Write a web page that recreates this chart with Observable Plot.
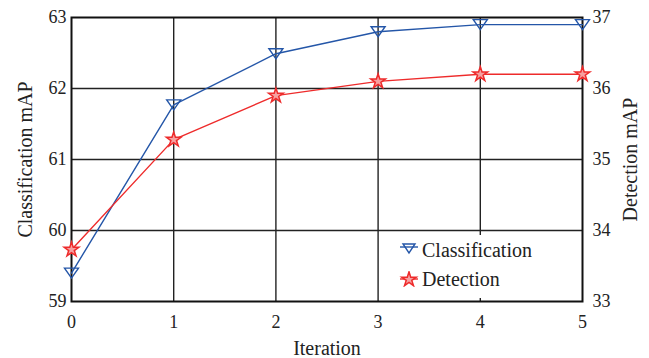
<!DOCTYPE html>
<html>
<head>
<meta charset="utf-8">
<script src="https://cdn.jsdelivr.net/npm/d3@7"></script>
<script src="https://cdn.jsdelivr.net/npm/@observablehq/plot@0.6"></script>
<style>
  html, body { margin: 0; padding: 0; background: #fff; }
  #wrap { position: relative; width: 649px; height: 358px; font-family: "Liberation Serif", "DejaVu Serif", serif; }
  #legend { position: absolute; left: 393px; top: 235px; width: 186px; height: 63px; background: #fff; font-size: 20px; color: #222; }
  .item { position: absolute; left: 5px; height: 22px; display: flex; align-items: center; }
  .item svg { margin-right: 2px; }
</style>
</head>
<body>
<div id="wrap"></div>
<script>
const iterations = [0, 1, 2, 3, 4, 5];
const classification = [59.4, 61.77, 62.49, 62.8, 62.9, 62.9];
const detection = [33.73, 35.28, 35.9, 36.1, 36.2, 36.2];
const leftTicks = [59, 60, 61, 62, 63];
const rightTicks = [33, 34, 35, 36, 37];
const xTicks = [0, 1, 2, 3, 4, 5];
const seriesNames = ["Classification", "Detection"];
const axisTitles = ["Iteration", "Classification mAP", "Detection mAP"];
const colors = ["#2456a8", "#ee2b2b"];

// map right axis (33..37) onto left scale (59..63)
const offset = leftTicks[0] - rightTicks[0];

const triDown = {
  draw(ctx, size) {
    const s = Math.sqrt(size / 113);
    const w = 7 * s, h = 5 * s;
    ctx.moveTo(-w, -h);
    ctx.lineTo(w, -h);
    ctx.lineTo(0, h);
    ctx.closePath();
  }
};

const cls = iterations.map((x, i) => ({x, y: classification[i]}));
const det = iterations.map((x, i) => ({x, y: detection[i] + offset}));

const chart = Plot.plot({
  width: 649,
  height: 358,
  marginLeft: 71,
  marginRight: 67,
  marginTop: 17,
  marginBottom: 57,
  style: {fontFamily: "Liberation Serif, DejaVu Serif, serif", fontSize: "18px", color: "#222", background: "#fff"},
  x: {domain: [0, 5]},
  y: {domain: [59, 63]},
  marks: [
    Plot.gridX(xTicks.slice(1, -1), {stroke: "#222", strokeOpacity: 1, strokeWidth: 1.4}),
    Plot.gridY(leftTicks.slice(1, -1), {stroke: "#222", strokeOpacity: 1, strokeWidth: 1.4}),
    Plot.frame({stroke: "#111", strokeWidth: 2}),
    Plot.axisX(xTicks, {tickSize: 0, tickPadding: 14, label: null, fill: "#222"}),
    Plot.axisY(leftTicks, {anchor: "left", tickSize: 0, tickPadding: 5, tickFormat: d => String(d), label: null, fill: "#222"}),
    Plot.axisY(leftTicks, {anchor: "right", tickSize: 0, tickPadding: 10, tickFormat: d => String(d - offset), label: null, fill: "#222"}),
    Plot.text([axisTitles[0]], {frameAnchor: "bottom", dy: 47, textAnchor: "middle", lineAnchor: "middle", fontSize: 20, fill: "#222"}),
    Plot.text([axisTitles[1]], {frameAnchor: "left", dx: -46, rotate: -90, textAnchor: "middle", lineAnchor: "middle", fontSize: 20, fill: "#222"}),
    Plot.text([axisTitles[2]], {frameAnchor: "right", dx: 48, rotate: -90, textAnchor: "middle", lineAnchor: "middle", fontSize: 20, fill: "#222"}),
    Plot.line(cls, {x: "x", y: "y", stroke: colors[0], strokeWidth: 1.4}),
    Plot.line(det, {x: "x", y: "y", stroke: colors[1], strokeWidth: 1.4}),
    Plot.dot(cls, {x: "x", y: "y", symbol: triDown, r: 6, stroke: colors[0], strokeWidth: 1.4, fill: "none"}),
    Plot.dot(det, {x: "x", y: "y", symbol: "star", r: 4.6, stroke: colors[1], strokeWidth: 1.5, fill: "#f6a0a0"})
  ]
});
const wrap = document.getElementById("wrap");
wrap.appendChild(chart);

// legend
const legend = document.createElement("div");
legend.id = "legend";
const syms = [
  '<svg width="22" height="16"><line x1="2" y1="5" x2="20" y2="5" stroke="' + colors[0] + '" stroke-width="1.4"/><path d="M5,2 L17,2 L11,11 Z" fill="none" stroke="' + colors[0] + '" stroke-width="1.4"/></svg>',
  '<svg width="22" height="16"><line x1="2" y1="8" x2="20" y2="8" stroke="' + colors[1] + '" stroke-width="1.4"/><path transform="translate(11,8.5)" d="' + d3.symbol(d3.symbolStar, 66)() + '" fill="#f6a0a0" stroke="' + colors[1] + '" stroke-width="1.5"/></svg>'
];
seriesNames.forEach((name, i) => {
  const it = document.createElement("div");
  it.className = "item";
  it.style.top = (4 + i * 29) + "px";
  it.innerHTML = syms[i] + "<span>" + name + "</span>";
  legend.appendChild(it);
});
wrap.appendChild(legend);
</script>
</body>
</html>
